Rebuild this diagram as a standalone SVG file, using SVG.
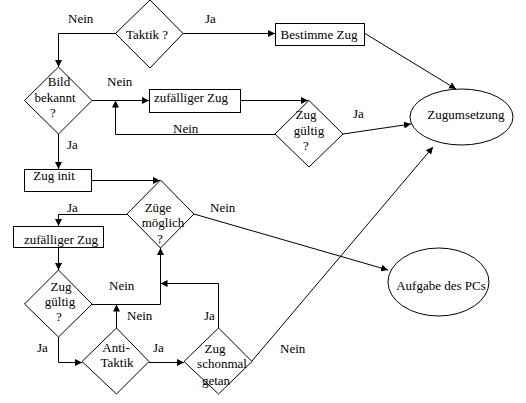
<svg xmlns="http://www.w3.org/2000/svg" width="526" height="403" viewBox="0 0 526 403" font-family="'Liberation Serif', 'DejaVu Serif', serif" font-size="13">
<defs>
<marker id="ah" markerUnits="userSpaceOnUse" markerWidth="7" markerHeight="7" refX="7" refY="3.5" orient="auto">
<path d="M0,0 L7,3.5 L0,7 z" fill="#000"/>
</marker>
<style>
text{font-family:'Liberation Serif','DejaVu Serif',serif;font-size:13px;fill:#000}
.m{text-anchor:middle}
.s{fill:#fff;stroke:#000;stroke-width:1}
#connectors path{fill:none;stroke:#000;stroke-width:1;marker-end:url(#ah)}
</style>
</defs>
<rect width="526" height="403" fill="#fff"/>
<g id="connectors">
<path d="M115.5,33.5 H58.5 V67"/>
<path d="M183,33.5 H275"/>
<path d="M365,33.5 L456,89"/>
<path d="M92,100.5 H149"/>
<path d="M241,100.5 H308"/>
<path d="M275,134.5 H115.5 V100.5"/>
<path d="M343,134 L411,124"/>
<path d="M58.5,134 V169"/>
<path d="M92,180.5 H160"/>
<path d="M127,214.5 H58.5 V226"/>
<path d="M194,214 L388,270"/>
<path d="M58.5,248 V270"/>
<path d="M92,304.5 H160.5 V248"/>
<path d="M116.5,328 V304.5"/>
<path d="M58.5,337 V362.5 H82"/>
<path d="M149,362.5 H184"/>
<path d="M218.5,328 V283.5 H160.5"/>
<path d="M252,361 L433,147"/>
</g>
<g id="labels">
<text x="68" y="23">Nein</text>
<text x="205" y="23">Ja</text>
<text x="107" y="86">Nein</text>
<text x="173" y="133">Nein</text>
<text x="67" y="149">Ja</text>
<text x="353" y="118">Ja</text>
<text x="67" y="212">Ja</text>
<text x="210" y="212">Nein</text>
<text x="109" y="290">Nein</text>
<text x="127" y="320">Nein</text>
<text x="204" y="320">Ja</text>
<text x="37" y="352">Ja</text>
<text x="153" y="352">Ja</text>
<text x="280" y="353">Nein</text>
</g>
<g id="taktik">
<polygon class="s" points="150,0 183,33.5 150,68 115.5,33.5"/>
<text class="m" x="147" y="39">Taktik ?</text>
</g>
<g id="bestimme">
<rect class="s" x="275.5" y="23.5" width="89" height="22"/>
<text class="m" x="319" y="39">Bestimme Zug</text>
</g>
<g id="bild">
<polygon class="s" points="58.5,67 92,100.5 58.5,134 24.5,100.5"/>
<text class="m" x="59" y="86">Bild</text>
<text class="m" x="55" y="102">bekannt</text>
<text class="m" x="53" y="117">?</text>
</g>
<g id="zufall1">
<rect class="s" x="149.5" y="89.5" width="91" height="23"/>
<text class="m" x="191" y="102">zufälliger Zug</text>
</g>
<g id="gueltig1">
<polygon class="s" points="309,100.5 343,134 309,167 275,134"/>
<text class="m" x="306" y="119">Zug</text>
<text class="m" x="309" y="135">gültig</text>
<text class="m" x="306" y="150">?</text>
</g>
<g id="zugumsetzung">
<ellipse class="s" cx="461.5" cy="117" rx="51.5" ry="28"/>
<text class="m" x="466" y="119">Zugumsetzung</text>
</g>
<g id="zuginit">
<rect class="s" x="24.5" y="169.5" width="67" height="22"/>
<text class="m" x="54" y="180">Zug init</text>
</g>
<g id="zuege">
<polygon class="s" points="160.5,180 194,214 160.5,248 127,214"/>
<text class="m" x="158" y="212">Züge</text>
<text class="m" x="163" y="227">möglich</text>
<text class="m" x="160" y="243">?</text>
</g>
<g id="zufall2">
<rect class="s" x="13.5" y="226.5" width="90" height="21"/>
<text class="m" x="61" y="244">zufälliger Zug</text>
</g>
<g id="gueltig2">
<polygon class="s" points="58.5,270 92,304 58.5,337 24.5,304"/>
<text class="m" x="61" y="291">Zug</text>
<text class="m" x="60" y="306">gültig</text>
<text class="m" x="59" y="321">?</text>
</g>
<g id="antitaktik">
<polygon class="s" points="116.5,328 149,361.5 116.5,394 82,361.5"/>
<text class="m" x="116" y="352">Anti-</text>
<text class="m" x="117" y="367">Taktik</text>
</g>
<g id="schonmal">
<polygon class="s" points="218.5,328 252,361.5 218.5,394 184,361.5"/>
<text class="m" x="215" y="353">Zug</text>
<text class="m" x="222" y="368">schonmal</text>
<text class="m" x="216" y="385">getan</text>
</g>
<g id="aufgabe">
<ellipse class="s" cx="438.5" cy="282" rx="50.5" ry="34"/>
<text class="m" x="441" y="290">Aufgabe des PCs</text>
</g>
</svg>
